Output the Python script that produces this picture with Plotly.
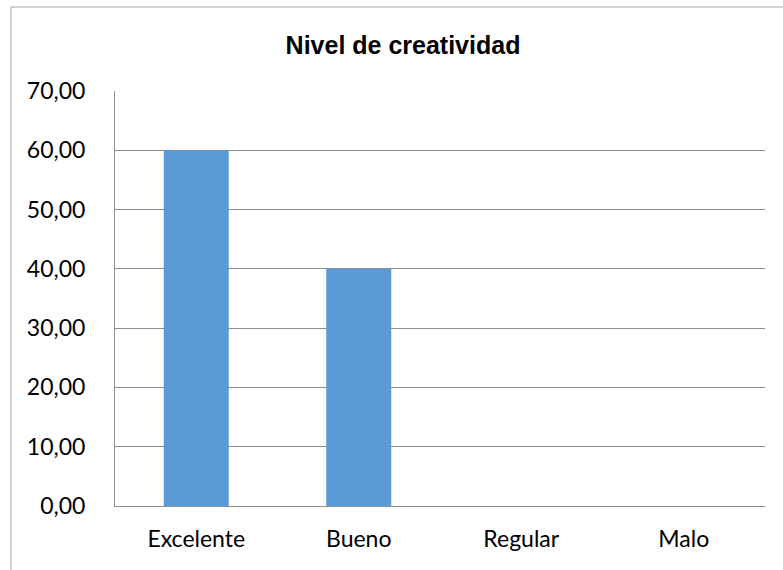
import plotly.graph_objects as go

# Nivel de creatividad (%)
categorias = ["Excelente", "Bueno", "Regular", "Malo"]
porcentajes = [60.0, 40.0, 0.0, 0.0]
y_ticks = [0, 10, 20, 30, 40, 50, 60, 70]
y_tick_text = ["0,00", "10,00", "20,00", "30,00", "40,00", "50,00", "60,00", "70,00"]

W, H = 783, 570
L, R, T, B = 115, 18, 91, 64
pw, ph = W - L - R, H - T - B

fig = go.Figure(
    go.Bar(
        x=categorias,
        y=porcentajes,
        marker=dict(color="#5B9BD5", line=dict(width=0)),
        width=0.4,
    )
)

grid = "#8C8C8C"
fig.update_layout(
    width=W,
    height=H,
    margin=dict(l=L, r=R, t=T, b=B),
    paper_bgcolor="white",
    plot_bgcolor="white",
    showlegend=False,
    title=dict(
        text="<b>Nivel de creatividad</b>",
        font=dict(family="Liberation Sans, Arial", size=25, color="black"),
        x=403 / W,
        xanchor="center",
        y=1 - 45 / H,
        yanchor="middle",
    ),
    font=dict(family="Lato, Calibri, sans-serif", size=23, color="black"),
    xaxis=dict(
        showgrid=False,
        showline=True,
        linecolor=grid,
        linewidth=1,
        ticks="",
        ticklabelstandoff=12,
        tickfont=dict(size=23, color="black"),
    ),
    yaxis=dict(
        range=[0, 70],
        tickvals=y_ticks,
        ticktext=y_tick_text,
        showgrid=True,
        gridcolor=grid,
        gridwidth=1,
        showline=True,
        linecolor=grid,
        linewidth=1,
        zeroline=False,
        ticks="",
        ticklabelstandoff=24,
        tickfont=dict(size=23, color="black"),
    ),
    shapes=[
        # outer chart frame
        dict(
            type="rect",
            xref="paper",
            yref="paper",
            x0=(11 - L) / pw,
            x1=(W + 20 - L) / pw,
            y0=-(H + 20 - T - ph) / ph,
            y1=1 + (T - 7) / ph,
            line=dict(color="#A6A6A6", width=1),
            layer="below",
        )
    ],
)

fig.write_html("out.html")
